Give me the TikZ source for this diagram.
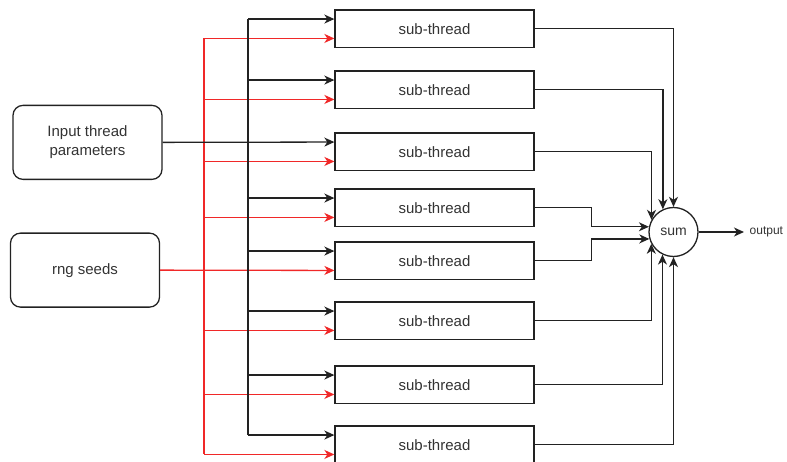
\documentclass[tikz,border=0pt]{standalone}
\usepackage{fontspec}
\setmainfont{Liberation Sans}
\usetikzlibrary{arrows.meta,calc}
\definecolor{ink}{HTML}{222222}
\definecolor{txt}{HTML}{333333}
\definecolor{seedred}{RGB}{240,40,40}

\begin{document}
\begin{tikzpicture}[x=1pt,y=-1pt,
  line width=1.3pt,
  tip/.style={-{Stealth[length=10pt,width=9pt,inset=3pt]}},
  wire/.style={draw=ink, tip},
  seedwire/.style={draw=seedred, tip},
  subbox/.style={draw=ink, minimum width=199pt, minimum height=37.5pt,
    inner sep=0pt, font=\fontsize{15}{18}\selectfont, text=txt},
  srcbox/.style={draw=ink, rounded corners=10pt, minimum width=149pt,
    minimum height=74pt, align=center, inner sep=0pt,
    font=\fontsize{15}{19}\selectfont, text=txt},
  sumnode/.style={draw=ink, circle, minimum size=49pt, inner sep=0pt,
    font=\fontsize{14}{16}\selectfont, text=txt}]
\useasboundingbox (0,0) rectangle (787,462);

% sub-thread boxes (top edges)
\foreach \i/\t in {1/10,2/71,3/133,4/189,5/242,6/302,7/366,8/426}{
  \node[subbox] (b\i) at (434.5,\t+18.75) {sub-thread};
  \coordinate (k\i) at ($(b\i.north west)!0.25!(b\i.south west)$);
  \coordinate (r\i) at ($(b\i.north west)!0.75!(b\i.south west)$);
}

% sources
\node[srcbox] (inp) at (87.5,142.375) {Input thread\\parameters};
\node[srcbox] (rng) at (85,270.125) {rng seeds};

% distribution trunks
\coordinate (ktrunk) at (248,0);
\coordinate (rtrunk) at (204,0);

\draw[seedred] (r1 -| rtrunk) -- (r8 -| rtrunk);
\foreach \i in {1,2,3,4,6,7,8}
  \draw[seedwire] (r\i -| rtrunk) -- (r\i);
\draw[seedwire] (rng.east) -- (r5);

\draw[ink] (k1 -| ktrunk) -- (k8 -| ktrunk);
\foreach \i in {1,2,4,5,6,7,8}
  \draw[wire] (k\i -| ktrunk) -- (k\i);
\draw[wire] (inp.east) -- (k3);

% summation
\node[sumnode] (sum) at (673.5,232) {sum};
\draw[wire] (b1.east) -| (sum.90);
\draw[wire] (b2.east) -| (sum.115.4);
\draw[wire] (b3.east) -| (sum.151.4);
\draw[wire] (b4.east) -- ++(57,0) |- (sum.168.2);
\draw[wire] (b5.east) -- ++(57,0) |- (sum.196.6);
\draw[wire] (b6.east) -| (sum.208.6);
\draw[wire] (b7.east) -| (sum.244.6);
\draw[wire] (b8.east) -| (sum.270);

\node[anchor=west, inner sep=0pt, font=\fontsize{12}{14}\selectfont, text=txt] (out) at (749,232) {output};
\draw[wire, shorten >=5pt] (sum.east) -- (out.west);
\end{tikzpicture}
\end{document}
